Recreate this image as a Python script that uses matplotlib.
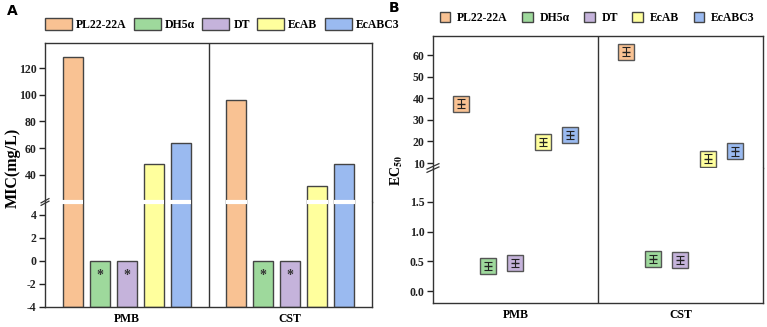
import matplotlib
matplotlib.use('Agg')
import matplotlib.pyplot as plt
from matplotlib.patches import Patch
import numpy as np

# data
groups = ['PMB', 'CST']
strains = ['PL22-22A', 'DH5\u03b1', 'DT', 'EcAB', 'EcABC3']
colors = ['#F9C293', '#9ED99C', '#C5B3DB', '#FFFF9D', '#9ABAF0']

mic_pmb = [128, 0, 0, 48, 64]
mic_cst = [96, 0, 0, 32, 48]

ec50_pmb = [37.5, 0.42, 0.47, 19.7, 22.9]
ec50_cst = [61.5, 0.54, 0.52, 12.1, 15.4]
ec50_err_pmb = [2.0, 0.07, 0.07, 2.0, 2.0]
ec50_err_cst = [2.0, 0.07, 0.07, 2.0, 2.0]

plt.rcParams['font.family'] = 'Liberation Serif'
plt.rcParams['font.weight'] = 'bold'
plt.rcParams['mathtext.fontset'] = 'stix'
plt.rcParams['axes.unicode_minus'] = False

edge = '#444444'
step = 0.165
bw = 0.12
offsets = (np.arange(len(strains)) - 2) * step
xg = np.arange(len(groups))

fig = plt.figure(figsize=(7.67, 3.27), dpi=100)

# ---------------- panel A ----------------
axA_top = fig.add_axes([0.0587, 0.3823, 0.4263, 0.4862])
axA_bot = fig.add_axes([0.0587, 0.0612, 0.4263, 0.3211])

mic = [mic_pmb, mic_cst]
for ax in (axA_top, axA_bot):
    for i, s in enumerate(strains):
        vals = np.array([m[i] for m in mic]) + 4
        ax.bar(xg + offsets[i], vals, bw, bottom=-4, color=colors[i],
               edgecolor=edge, linewidth=1.0, zorder=2)
    ax.axvline(0.5, color='#333333', lw=1.0)
    ax.set_xlim(-0.5, 1.5)

axA_top.set_ylim(19.8, 138.7)
axA_top.set_yticks([40, 60, 80, 100, 120])
axA_bot.set_ylim(-4, 5.13)
axA_bot.set_yticks([-4, -2, 0, 2, 4])

# asterisks on the zero-value bars
for gi in range(len(groups)):
    for i in range(len(strains)):
        if mic[gi][i] == 0:
            axA_bot.text(xg[gi] + offsets[i], -1.25, '*', ha='center', va='center',
                         fontsize=10, color='#333333')

# white gap on bars at the axis break
for gi in range(len(groups)):
    for i in range(len(strains)):
        if mic[gi][i] > 5:
            axA_bot.plot([xg[gi] + offsets[i] - bw / 2 - 0.004, xg[gi] + offsets[i] + bw / 2 + 0.004],
                         [5.13, 5.13], color='white', lw=3, clip_on=False, zorder=5,
                         solid_capstyle='butt')

axA_bot.set_xticks(xg)
axA_bot.set_xticklabels(groups)
axA_top.set_xticks([])

# ---------------- panel B ----------------
axB_top = fig.add_axes([0.5645, 0.4862, 0.4302, 0.4037])
axB_bot = fig.add_axes([0.5645, 0.0734, 0.4302, 0.4128])

ec = [ec50_pmb, ec50_cst]
ec_err = [ec50_err_pmb, ec50_err_cst]
for ax in (axB_top, axB_bot):
    for i, s in enumerate(strains):
        vals = [e[i] for e in ec]
        errs = [e[i] for e in ec_err]
        ax.plot(xg + offsets[i], vals, 's', ms=11, mfc=colors[i], mec='#555555',
                mew=1.0, zorder=3)
        ax.errorbar(xg + offsets[i], vals, yerr=errs, fmt='_', ms=6, color='#222222',
                    ecolor='#222222', elinewidth=0.8, capsize=3, capthick=0.8, zorder=4)
    ax.axvline(0.5, color='#333333', lw=1.0)
    ax.set_xlim(-0.5, 1.5)

axB_top.set_ylim(7.7, 68.8)
axB_top.set_yticks([10, 20, 30, 40, 50, 60])
axB_bot.set_ylim(-0.2, 2.07)
axB_bot.set_yticks([0.0, 0.5, 1.0, 1.5])
axB_bot.set_yticklabels(['0.0', '0.5', '1.0', '1.5'])
axB_bot.set_xticks(xg)
axB_bot.set_xticklabels(groups)
axB_top.set_xticks([])

# ---------------- common styling ----------------
for top, bot in ((axA_top, axA_bot), (axB_top, axB_bot)):
    top.spines['bottom'].set_visible(False)
    bot.spines['top'].set_visible(False)
    for ax in (top, bot):
        for sp in ax.spines.values():
            sp.set_color('#333333')
            sp.set_linewidth(1.0)
        ax.tick_params(axis='y', direction='out', length=4, width=1, labelsize=8.5,
                       colors='#222222', pad=2)
        ax.tick_params(axis='x', length=0, labelsize=8.5, pad=4)
        for lab in ax.get_yticklabels() + ax.get_xticklabels():
            lab.set_fontweight('bold')

# break marks on left spine
for bot, d in ((axA_bot, 0.012), (axB_bot, 0.018)):
    yb = 1.0
    for dy in (-0.012, 0.012):
        bot.plot([-d, d], [yb + dy - 0.02, yb + dy + 0.02], transform=bot.transAxes,
                 color='#333333', lw=0.9, clip_on=False)

# labels
fig.text(0.017, 0.486, 'MIC(mg/L)', rotation=90, ha='center', va='center',
         fontsize=11.5, fontweight='bold')
fig.text(0.517, 0.48, r'EC$_{\mathbf{50}}$', rotation=90, ha='center', va='center',
         fontsize=10, fontweight='bold')
fig.text(0.009, 0.965, 'A', fontsize=10, fontweight='bold', family='DejaVu Sans', va='center')
fig.text(0.507, 0.975, 'B', fontsize=10, fontweight='bold', family='DejaVu Sans', va='center')

# legends
handlesA = [Patch(facecolor=c, edgecolor=edge, linewidth=1.0) for c in colors]
fig.legend(handlesA, strains, loc='center left', bbox_to_anchor=(0.052, 0.925), ncol=5,
           frameon=False, handlelength=2.3, handleheight=1.1,
           handletextpad=0.35, columnspacing=0.6, borderaxespad=0,
           prop={'weight': 'bold', 'size': 8.5})
handlesB = [Patch(facecolor=c, edgecolor=edge, linewidth=1.0) for c in colors]
fig.legend(handlesB, strains, loc='center left', bbox_to_anchor=(0.567, 0.945), ncol=5,
           frameon=False, handlelength=0.9, handleheight=0.9,
           handletextpad=0.6, columnspacing=1.2, borderaxespad=0,
           prop={'weight': 'bold', 'size': 8.5})

fig.savefig('out.png', dpi=100)
